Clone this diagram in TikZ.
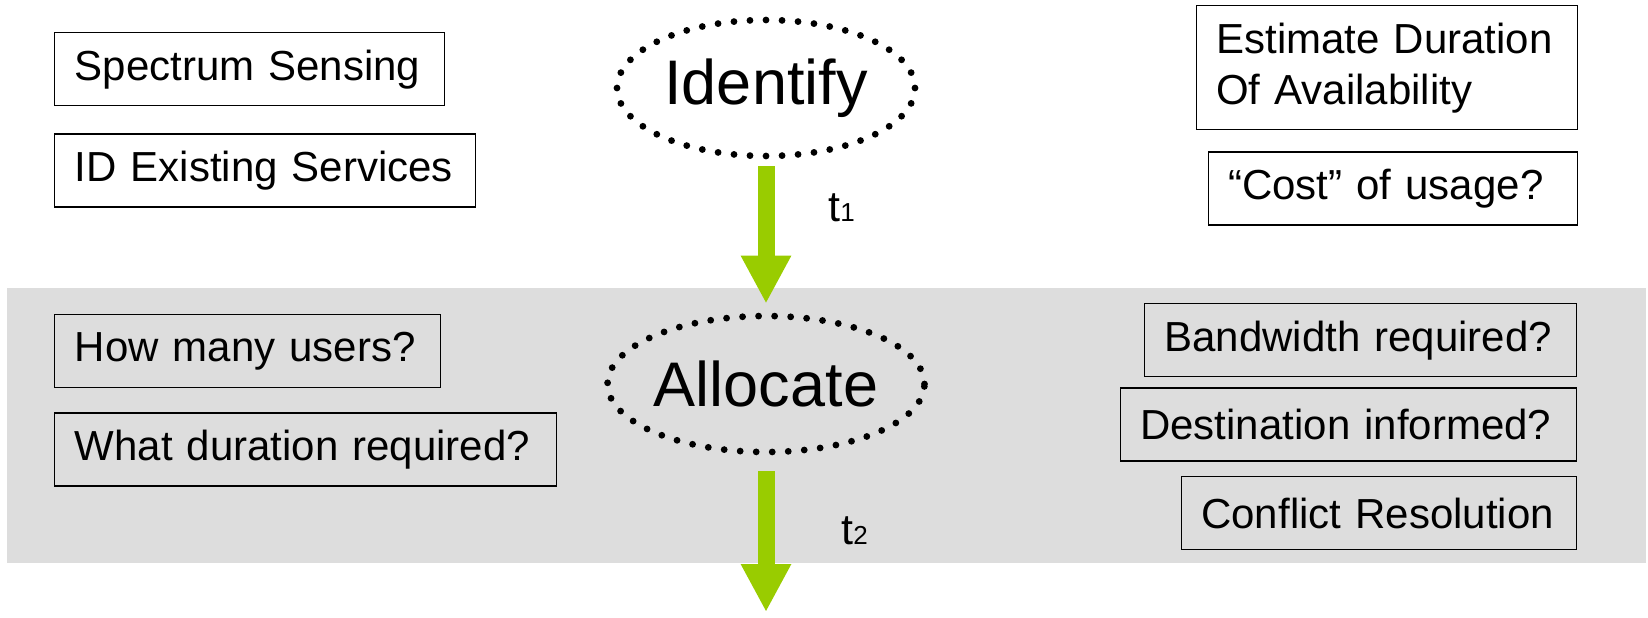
\documentclass[tikz,border=0pt]{standalone}
\usepackage{fontspec}
\setmainfont{Liberation Sans}
\usetikzlibrary{positioning,shapes.geometric,arrows.meta}
\definecolor{bandgrey}{RGB}{221,221,221}
\definecolor{flowgreen}{RGB}{153,204,0}

\begin{document}
\begin{tikzpicture}[x=0.5pt, y=-0.5pt,
      flowarrow/.style={-{Triangle[length=24pt, width=23.5pt]}, line width=8.5pt, draw=flowgreen, fill=flowgreen}]
  % A box style
  \tikzstyle{boxnode} = [draw, line width=0.7pt, rectangle, align=left, inner xsep=10pt, inner ysep=0pt, minimum height=36.5pt, font=\fontsize{21}{25.5}\selectfont]
  % Dotted ellipse for the two steps
  \tikzstyle{stepnode} = [draw, ellipse, line width=3.4pt, dash pattern=on 0pt off 8.02pt, line cap=round, minimum width=149pt, minimum height=68pt, inner sep=0pt, font=\fontsize{31.5}{36}\selectfont]
  \tikzstyle{timelabel} = [inner sep=0pt, font=\fontsize{21.5}{24}\selectfont]

  \useasboundingbox (0,0) rectangle (1648,617);

  % The grey band behind the allocation step
  \fill[bandgrey] (7,288) rectangle (1646,563);

  % The two steps
  \node (identify) [stepnode] at (766,88) {Identify};
  \node (allocate) [stepnode] at (766,384) {Allocate};

  % Questions on the left
  \node (sensing)  [boxnode, text width=175pt, anchor=north west] at (54,32) {Spectrum Sensing};
  \node (services) [boxnode, text width=190.5pt, below=13.5pt of sensing.south west, anchor=north west] {ID Existing Services};
  \node (users)    [boxnode, text width=173pt, anchor=north west] at (54,314) {How many users?};
  \node (duration) [boxnode, text width=231pt, below=12pt of users.south west, anchor=north west] {What duration required?};

  % Questions on the right
  \node (estimate)    [boxnode, text width=170.5pt, minimum height=62pt, anchor=north east] at (1578,5) {Estimate Duration\\Of Availability};
  \node (cost)        [boxnode, text width=164.5pt, below=10.5pt of estimate.south east, anchor=north east] {“Cost” of usage?};
  \node (bandwidth)   [boxnode, text width=196pt, anchor=north east] at (1577,303) {Bandwidth required?};
  \node (destination) [boxnode, text width=208pt, below=5pt of bandwidth.south east, anchor=north east] {Destination informed?};
  \node (conflict)    [boxnode, text width=177.5pt, below=7pt of destination.south east, anchor=north east] {Conflict Resolution};

  % Draw arrows downwards
  \coordinate (out) at (766,612);
  \draw[flowarrow, shorten <=3.5pt, shorten >=4.5pt] (identify) -- (allocate);
  \draw[flowarrow, shorten <=8pt] (allocate) -- (out);

  % Time labels
  \node (tone) [timelabel, anchor=base west] at (828,221) {t{\fontsize{13}{13}\selectfont 1}};
  \node (ttwo) [timelabel, anchor=base west] at (841,544) {t{\fontsize{13}{13}\selectfont 2}};
\end{tikzpicture}
\end{document}
